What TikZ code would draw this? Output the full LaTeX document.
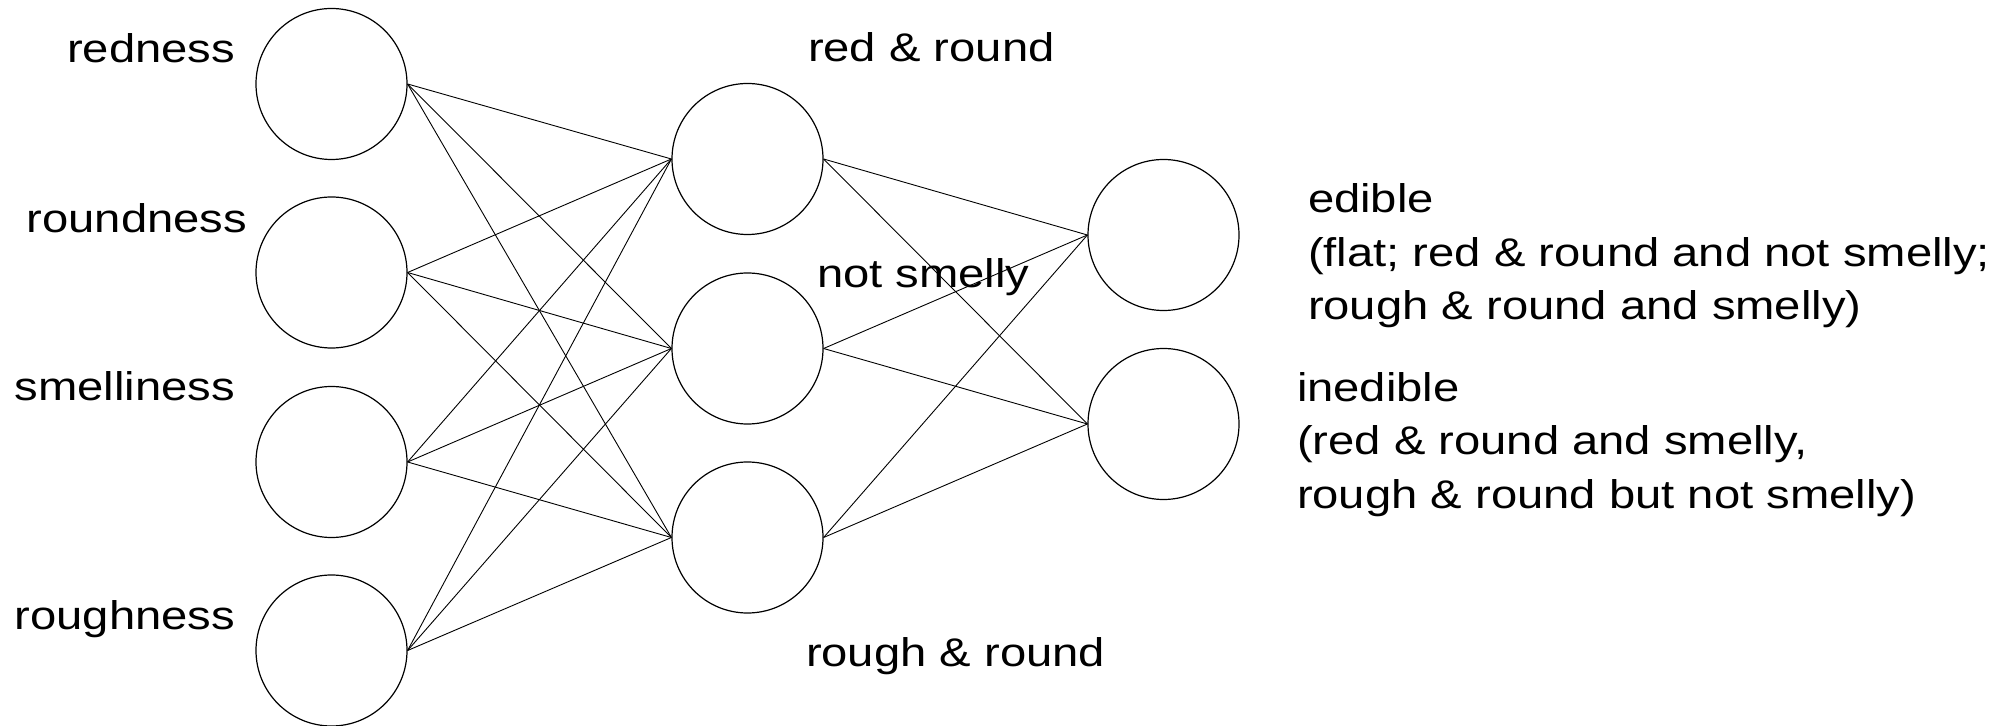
\documentclass[tikz,border=0pt]{standalone}
\usepackage{fontspec}
\setmainfont{Liberation Sans}[FakeStretch=1.18]
\begin{document}
\begin{tikzpicture}[x=0.5pt,y=-0.5pt,
  neuron/.style={circle,draw=black,line width=0.6pt,minimum size=75.5pt,inner sep=0pt},
  wire/.style={draw=black,line width=0.45pt},
  lbl/.style={inner sep=0pt,outer sep=0pt,font=\fontsize{20pt}{26.8pt}\selectfont},
  block/.style={lbl,align=left,anchor=base west}]
  \useasboundingbox (0,0) rectangle (1996,726);

  % input layer
  \node[neuron] (i1) at (331.5,84) {};
  \node[neuron] (i2) at (331.5,272.5) {};
  \node[neuron] (i3) at (331.5,462) {};
  \node[neuron] (i4) at (331.5,650.5) {};

  % hidden layer
  \node[neuron] (h1) at (747.5,159) {};
  \node[neuron] (h2) at (747.5,348.5) {};
  \node[neuron] (h3) at (747.5,537.5) {};

  % output layer
  \node[neuron] (o1) at (1163.5,235) {};
  \node[neuron] (o2) at (1163.5,424) {};

  % input -> hidden
  \foreach \i in {1,...,4}
    \foreach \h in {1,2,3}
      \draw[wire] (i\i.east) -- (h\h.west);
  % hidden -> output
  \foreach \h in {1,2,3}
    \foreach \o in {1,2}
      \draw[wire] (h\h.east) -- (o\o.west);

  % input labels
  \node[lbl,anchor=base east] (li1) at (235,63) {redness};
  \node[lbl,anchor=base east] (li2) at (247,232.5) {roundness};
  \node[lbl,anchor=base east] (li3) at (235,401) {smelliness};
  \node[lbl,anchor=base east] (li4) at (235,629) {roughness};

  % hidden labels
  \node[lbl,anchor=base west] (lh1) at (808,62) {red \& round};
  \node[lbl,anchor=base west] (lh2) at (817,288) {not smelly};
  \node[lbl,anchor=base west] (lh3) at (806,666) {rough \& round};

  % output labels (anchored on the baseline of their last line)
  \node[block] (lo1) at (1308,320) {edible\\(flat; red \& round and not smelly;\\rough \& round and smelly)};
  \node[block] (lo2) at (1297,508.5) {inedible\\(red \& round and smelly,\\rough \& round but not smelly)};
\end{tikzpicture}
\end{document}
